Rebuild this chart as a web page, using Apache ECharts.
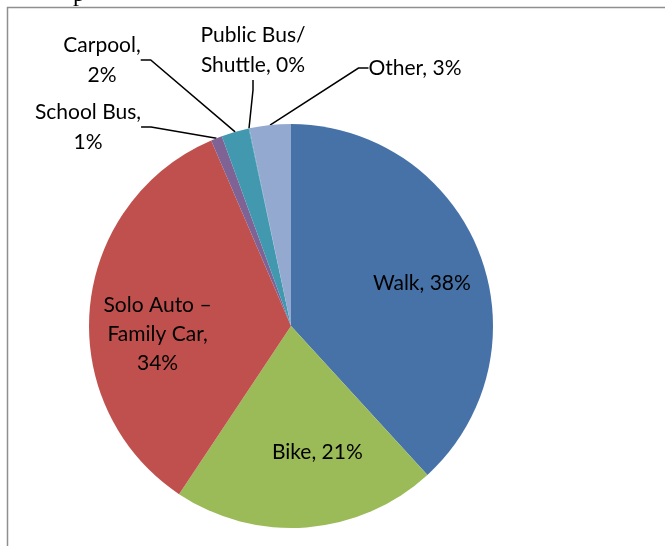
<!DOCTYPE html>
<html>
<head>
<meta charset="utf-8">
<script src="https://cdn.jsdelivr.net/npm/echarts@6/dist/echarts.min.js"></script>
<style>
html,body{margin:0;padding:0;background:#fff;}
#c{width:665px;height:546px;}
</style>
</head>
<body>
<div id="c"></div>
<script>
// ---- data ----
const categories = ['Walk', 'Bike', 'Solo Auto –\nFamily Car', 'School Bus', 'Carpool', 'Public Bus/\nShuttle', 'Other'];
const values = [38.1, 21.1, 34.1, 0.9, 2.2, 0.05, 3.3];
const labelSep = [', ', ', ', ',\n', ',\n', ',\n', ', ', ', '];
const colors = ['#4672A8', '#9BBB59', '#C0504D', '#7F6394', '#4198AF', '#4198AF', '#93A9CF'];

// ---- layout (label placement tweaks, by index) ----
const outerLabelPos = {3: [88, 127], 4: [102, 60], 5: [253, 50], 6: [415, 68]};
const insideLabelOffset = {0: [6, 6], 1: [16, -7], 2: [0, 20]};

const FONT = 'Lato';
const FS = 21;
const isInside = v => v >= 10;
const fmt = p => categories[p.dataIndex] + labelSep[p.dataIndex] + Math.round(p.percent) + '%';

const mainData = values.map((v, i) => ({
  name: categories[i], value: v,
  itemStyle: {color: colors[i]},
  label: {show: !isInside(v)},
  labelLine: {show: !isInside(v)}
}));
const overlayData = values.map((v, i) => ({
  name: categories[i], value: v,
  label: {show: isInside(v), offset: insideLabelOffset[i] || [0, 0]}
}));

const chart = echarts.init(document.getElementById('c'), null, {renderer: 'canvas'});
chart.setOption({
  animation: false,
  backgroundColor: '#fff',
  graphic: [
    {type: 'rect', shape: {x: 7.5, y: 7.5, width: 700, height: 600},
     style: {fill: 'none', stroke: '#8f8f8f', lineWidth: 1.5}, z: 0},
    {type: 'text', x: 73, y: -17,
     style: {text: 'p', font: '24px "Liberation Serif"', fill: '#000'}}
  ],
  series: [
    {
      type: 'pie', center: [291, 326], radius: [0, 202], startAngle: 90, clockwise: true,
      avoidLabelOverlap: false, silent: true,
      data: mainData,
      label: {position: 'outside', formatter: fmt, color: '#000', fontFamily: FONT, fontSize: FS,
              lineHeight: 30, align: 'center'},
      labelLine: {lineStyle: {color: '#000', width: 1.5}, length: 20, length2: 10},
      labelLayout: function (p) {
        const pos = outerLabelPos[p.dataIndex];
        if (!pos) return {};
        return {x: pos[0], y: pos[1], align: 'center', verticalAlign: 'middle'};
      },
      emphasis: {disabled: true}
    },
    {
      type: 'pie', center: [291, 326], radius: [0, 262], startAngle: 90, clockwise: true,
      silent: true, z: 3,
      data: overlayData,
      itemStyle: {color: 'rgba(0,0,0,0)'},
      label: {position: 'inside', formatter: fmt, color: '#000', fontFamily: FONT, fontSize: FS,
              lineHeight: 29, align: 'center'},
      labelLine: {show: false},
      emphasis: {disabled: true}
    }
  ]
});
</script>
</body>
</html>
